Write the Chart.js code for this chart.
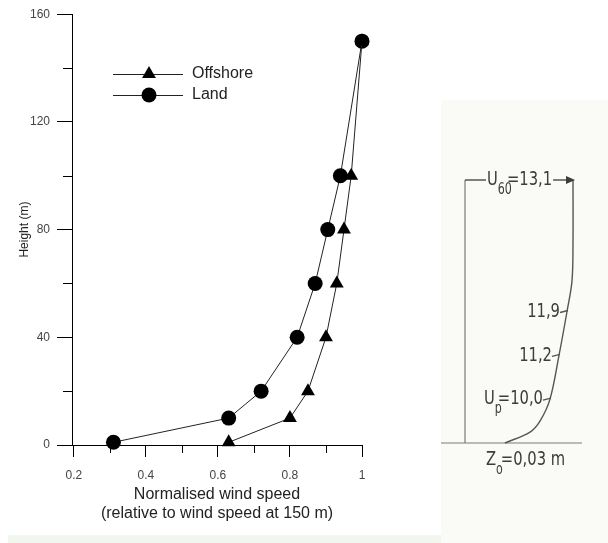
<!DOCTYPE html>
<html>
<head>
<meta charset="utf-8">
<script src="https://cdn.jsdelivr.net/npm/chart.js@4.4.1/dist/chart.umd.min.js"></script>
<style>
  html, body { margin: 0; padding: 0; background: #fff; }
  body { width: 608px; height: 543px; position: relative; overflow: hidden; }
  #left { position: absolute; left: 0; top: 0; }
  #scan { position: absolute; left: 441px; top: 100px; width: 167px; height: 443px; background: #fafaf7; }
  #right { position: absolute; left: 0; top: 0; }
  #band { position: absolute; left: 8px; top: 535px; width: 433px; height: 8px; background: #f1f6ee; }
</style>
</head>
<body>
<canvas id="left" width="380" height="543"></canvas>
<div id="scan"><canvas id="right" width="167" height="443"></canvas></div>
<div id="band"></div>
<script>
// left chart: normalised wind speed vs height
const heights = [1, 10, 20, 40, 60, 80, 100, 150];
const offshore = [0.63, 0.80, 0.85, 0.90, 0.93, 0.95, 0.97, 1.0];
const land = [0.31, 0.63, 0.72, 0.82, 0.87, 0.905, 0.94, 1.0];
const xMajor = [0.2, 0.4, 0.6, 0.8, 1];
const xMinor = [0.3, 0.5, 0.7, 0.9];
const yMajor = [0, 40, 80, 120, 160];
const yMinor = [20, 60, 100, 140];

// right panel: scanned log-profile sketch (height in m, x in drawing units)
const sketchHeight = [0, 2.5, 5, 10, 20, 30, 37, 46, 60];
const sketchX = [6.4, 8.9, 9.9, 10.9, 11.8, 12.6, 13.1, 13.2, 13.2];
const markHeights = [10, 20, 30];
const markLabels = [[['U', 0], ['p', 1, 4], ['=10,0', 0]], [['11,2', 0]], [['11,9', 0]]];
const topLabel = [['U', 0], ['60', 1, 5], ['=13,1', 0]];
const groundLabel = [['Z', 0], ['o', 1, 2], ['=0,03', 0], [' m', 0]];
const poleX = 2.4;
const groundEnd = 14.1;

const FONT = 'Liberation Sans, Arial, sans-serif';
const SKETCH_FONT = '"DejaVu Sans Condensed", "Liberation Sans Narrow", sans-serif';
const SQUEEZE = 0.82;

function pairs(xs, ys) {
    return xs.map((v, i) => ({x: v, y: ys[i]}));
}

const minorTicks = {
    id: 'minorTicks',
    afterDraw(chart) {
        const {ctx, scales: {x, y}} = chart;
        ctx.save();
        ctx.strokeStyle = '#000';
        ctx.lineWidth = 1;
        ctx.beginPath();
        xMinor.forEach(v => {
            const px = Math.round(x.getPixelForValue(v)) + 0.5;
            ctx.moveTo(px, x.top);
            ctx.lineTo(px, x.top + 8);
        });
        yMinor.forEach(v => {
            const py = Math.round(y.getPixelForValue(v)) + 0.5;
            ctx.moveTo(y.right, py);
            ctx.lineTo(y.right - 9, py);
        });
        ctx.stroke();
        ctx.restore();
    }
};

const lineLegend = {
    id: 'lineLegend',
    afterDatasetsDraw(chart) {
        const ctx = chart.ctx;
        chart.data.datasets.forEach((ds, i) => {
            const yy = 74 + i * 21;
            ctx.save();
            ctx.strokeStyle = ds.borderColor;
            ctx.lineWidth = 1;
            ctx.beginPath();
            ctx.moveTo(113, yy + 0.5);
            ctx.lineTo(183, yy + 0.5);
            ctx.stroke();
            ctx.fillStyle = ds.pointBackgroundColor;
            Chart.helpers.drawPoint(ctx, {pointStyle: ds.pointStyle, radius: ds.pointRadius, borderWidth: 0, rotation: 0}, 149, yy);
            ctx.fillStyle = '#222';
            ctx.font = '16px ' + FONT;
            ctx.textBaseline = 'middle';
            ctx.fillText(ds.label, 192, yy);
            ctx.restore();
        });
    }
};

new Chart(document.getElementById('left'), {
    type: 'line',
    data: {
        datasets: [
            {
                label: 'Offshore',
                data: pairs(offshore, heights),
                borderColor: '#222',
                borderWidth: 1,
                pointStyle: 'triangle',
                pointRadius: 8,
                pointBackgroundColor: '#000',
                pointBorderWidth: 0,
                clip: false
            },
            {
                label: 'Land',
                data: pairs(land, heights),
                borderColor: '#222',
                borderWidth: 1,
                pointStyle: 'circle',
                pointRadius: 7.5,
                pointBackgroundColor: '#000',
                pointBorderWidth: 0,
                clip: false
            }
        ]
    },
    options: {
        responsive: false,
        animation: false,
        layout: {padding: {top: 14, right: 18, bottom: 20, left: 0}},
        plugins: {legend: {display: false}, tooltip: {enabled: false}},
        scales: {
            x: {
                type: 'linear',
                min: 0.195,
                max: 1,
                afterBuildTicks: s => { s.ticks = xMajor.map(v => ({value: v})); },
                afterFit: s => { s.height = 78; },
                ticks: {
                    callback: v => String(v),
                    font: {family: FONT, size: 12},
                    color: '#444',
                    padding: 11,
                    maxRotation: 0,
                    autoSkip: false
                },
                grid: {drawOnChartArea: false, tickLength: 12, color: '#000'},
                border: {color: '#000', width: 1},
                title: {
                    display: true,
                    text: ['Normalised wind speed', '(relative to wind speed at 150 m)'],
                    font: {family: FONT, size: 16, lineHeight: 1.2},
                    color: '#222',
                    padding: 0
                }
            },
            y: {
                type: 'linear',
                min: 0,
                max: 160,
                afterBuildTicks: s => { s.ticks = yMajor.map(v => ({value: v})); },
                afterFit: s => { s.width = 72; },
                ticks: {
                    font: {family: FONT, size: 12},
                    color: '#444',
                    padding: 7
                },
                grid: {drawOnChartArea: false, tickLength: 15, color: '#000'},
                border: {color: '#000', width: 1},
                title: {
                    display: true,
                    text: 'Height (m)',
                    font: {family: FONT, size: 12},
                    color: '#222',
                    padding: {top: 17, bottom: 0}
                }
            }
        }
    },
    plugins: [minorTicks, lineLegend]
});

// draws text pieces with subscripts (horizontally squeezed), returns [start, end] x
function drawParts(ctx, parts, x, y, align) {
    const big = '20px ' + SKETCH_FONT;
    const small = '15px ' + SKETCH_FONT;
    const adv = p => {
        ctx.font = p[1] ? small : big;
        return ctx.measureText(p[0]).width * SQUEEZE - (p[2] || 0);
    };
    let w = 0;
    parts.forEach(p => { w += adv(p); });
    const start = align === 'right' ? x - w : x;
    let cx = start;
    ctx.textBaseline = 'middle';
    parts.forEach(p => {
        const a = adv(p);
        ctx.save();
        ctx.translate(cx, p[1] ? y + 10 : y);
        ctx.scale(SQUEEZE, 1);
        ctx.fillText(p[0], 0, 0);
        ctx.restore();
        cx += a;
    });
    return [start, cx];
}

const sketchNotes = {
    id: 'sketchNotes',
    afterDatasetsDraw(chart) {
        const {ctx, scales: {x, y}} = chart;
        ctx.save();
        ctx.fillStyle = '#3c3c3c';
        ctx.strokeStyle = '#555';
        ctx.lineWidth = 1.3;

        // marks along the profile
        markHeights.forEach((h, i) => {
            const idx = sketchHeight.indexOf(h);
            const cx = x.getPixelForValue(sketchX[idx]);
            const cy = y.getPixelForValue(h);
            ctx.beginPath();
            ctx.moveTo(cx - 7, cy + 1);
            ctx.lineTo(cx + 1, cy - 1);
            ctx.stroke();
            drawParts(ctx, markLabels[i], cx - 7, cy, 'right');
        });

        // top: pole to arrow
        const topY = y.getPixelForValue(sketchHeight[sketchHeight.length - 1]);
        const poleP = x.getPixelForValue(poleX);
        const tipP = x.getPixelForValue(sketchX[sketchX.length - 1]);
        const span = drawParts(ctx, topLabel, poleP + 22, topY, 'left');
        ctx.beginPath();
        ctx.moveTo(poleP, topY);
        ctx.lineTo(span[0] - 1, topY);
        ctx.moveTo(span[1] + 1, topY);
        ctx.lineTo(tipP - 6, topY);
        ctx.stroke();
        ctx.beginPath();
        ctx.moveTo(tipP + 2, topY);
        ctx.lineTo(tipP - 7, topY - 4);
        ctx.lineTo(tipP - 7, topY + 4);
        ctx.closePath();
        ctx.fill();

        // roughness label under ground
        const g = y.getPixelForValue(0);
        drawParts(ctx, groundLabel, poleP + 21, g + 17, 'left');
        ctx.restore();
    }
};

new Chart(document.getElementById('right'), {
    type: 'line',
    data: {
        datasets: [
            {
                data: pairs(sketchX, sketchHeight),
                borderColor: '#555',
                borderWidth: 1.4,
                pointRadius: 0,
                tension: 0.35,
                clip: false
            },
            {
                data: [{x: 0, y: 0}, {x: groundEnd, y: 0}],
                borderColor: '#7a7a7a',
                borderWidth: 1.2,
                pointRadius: 0,
                clip: false
            },
            {
                data: [{x: poleX, y: 0}, {x: poleX, y: 60}],
                borderColor: '#7a7a7a',
                borderWidth: 1.2,
                pointRadius: 0,
                clip: false
            }
        ]
    },
    options: {
        responsive: false,
        animation: false,
        layout: {padding: {top: 80, right: 7, bottom: 100, left: 0}},
        plugins: {legend: {display: false}, tooltip: {enabled: false}},
        scales: {
            x: {type: 'linear', display: false, min: 0, max: 16},
            y: {type: 'linear', display: false, min: 0, max: 60}
        }
    },
    plugins: [sketchNotes]
});
</script>
</body>
</html>
